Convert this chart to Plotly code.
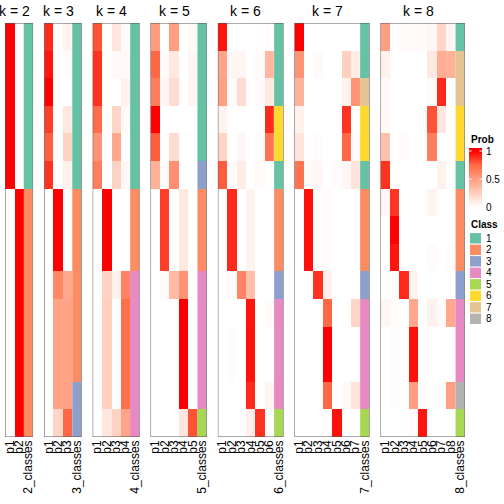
import plotly.graph_objects as go

# ---------------- data ----------------
ks = [2, 3, 4, 5, 6, 7, 8]

prob_k2 = [
    [1.00, 0.00], [1.00, 0.00], [1.00, 0.00], [1.00, 0.00], [1.00, 0.00], [1.00, 0.00],
    [0.00, 1.00], [0.00, 1.00], [0.00, 1.00], [0.00, 1.00], [0.00, 1.00], [0.00, 1.00],
    [0.00, 1.00], [0.00, 1.00], [0.00, 1.00],
]
class_k2 = [1, 1, 1, 1, 1, 1, 2, 2, 2, 2, 2, 2, 2, 2, 2]

prob_k3 = [
    [0.90, 0.00, 0.06], [0.95, 0.00, 0.02], [1.00, 0.00, 0.00], [0.85, 0.00, 0.12],
    [0.77, 0.00, 0.23], [0.88, 0.00, 0.07], [0.00, 1.00, 0.00], [0.00, 1.00, 0.00],
    [0.00, 1.00, 0.00], [0.00, 0.60, 0.45], [0.00, 0.48, 0.48], [0.00, 0.48, 0.48],
    [0.00, 0.48, 0.48], [0.00, 0.48, 0.48], [0.00, 0.22, 0.75],
]
class_k3 = [1, 1, 1, 1, 1, 1, 2, 2, 2, 2, 2, 2, 2, 3, 3]

prob_k4 = [
    [0.80, 0.00, 0.13, 0.02], [0.88, 0.00, 0.03, 0.03], [0.88, 0.00, 0.00, 0.07],
    [0.73, 0.00, 0.22, 0.03], [0.55, 0.00, 0.45, 0.00], [0.65, 0.00, 0.23, 0.04],
    [0.00, 1.00, 0.00, 0.00], [0.00, 1.00, 0.00, 0.00], [0.00, 1.00, 0.00, 0.00],
    [0.00, 0.23, 0.07, 0.63], [0.00, 0.25, 0.00, 0.72], [0.00, 0.25, 0.00, 0.72],
    [0.00, 0.25, 0.00, 0.72], [0.00, 0.25, 0.00, 0.72], [0.00, 0.13, 0.23, 0.47],
]
class_k4 = [1, 1, 1, 1, 1, 1, 2, 2, 2, 4, 4, 4, 4, 4, 4]

prob_k5 = [
    [0.50, 0.00, 0.50, 0.00, 0.03], [0.75, 0.02, 0.12, 0.00, 0.05],
    [0.65, 0.04, 0.18, 0.00, 0.05], [1.00, 0.00, 0.00, 0.00, 0.00],
    [0.78, 0.00, 0.18, 0.00, 0.00], [0.40, 0.03, 0.57, 0.00, 0.00],
    [0.00, 0.85, 0.00, 0.12, 0.00], [0.00, 0.85, 0.00, 0.12, 0.00],
    [0.00, 0.85, 0.00, 0.12, 0.00], [0.00, 0.03, 0.35, 0.55, 0.02],
    [0.00, 0.00, 0.00, 1.00, 0.00], [0.00, 0.00, 0.00, 1.00, 0.00],
    [0.00, 0.00, 0.00, 1.00, 0.00], [0.00, 0.00, 0.00, 1.00, 0.00],
    [0.00, 0.00, 0.00, 0.13, 0.80],
]
class_k5 = [1, 1, 1, 1, 1, 3, 2, 2, 2, 4, 4, 4, 4, 4, 5]

prob_k6 = [
    [0.95, 0.00, 0.00, 0.00, 0.00, 0.02], [0.47, 0.04, 0.05, 0.00, 0.03, 0.37],
    [0.50, 0.02, 0.18, 0.00, 0.02, 0.12], [0.06, 0.00, 0.00, 0.00, 0.00, 0.90],
    [0.22, 0.00, 0.04, 0.00, 0.02, 0.70], [0.78, 0.02, 0.10, 0.00, 0.03, 0.00],
    [0.00, 0.90, 0.00, 0.06, 0.00, 0.00], [0.00, 0.90, 0.00, 0.06, 0.00, 0.00],
    [0.00, 0.90, 0.00, 0.06, 0.00, 0.00], [0.00, 0.02, 0.62, 0.33, 0.00, 0.00],
    [0.00, 0.00, 0.00, 0.95, 0.00, 0.03], [0.00, 0.01, 0.00, 0.96, 0.00, 0.00],
    [0.00, 0.01, 0.00, 0.96, 0.00, 0.00], [0.00, 0.00, 0.00, 0.90, 0.00, 0.05],
    [0.00, 0.00, 0.00, 0.08, 0.88, 0.00],
]
class_k6 = [1, 1, 1, 6, 6, 1, 2, 2, 2, 3, 4, 4, 4, 4, 5]

prob_k7 = [
    [1.00, 0.00, 0.00, 0.00, 0.00, 0.00, 0.00], [0.55, 0.00, 0.03, 0.00, 0.00, 0.25, 0.10],
    [0.40, 0.00, 0.00, 0.00, 0.00, 0.07, 0.55], [0.07, 0.00, 0.00, 0.00, 0.00, 0.88, 0.00],
    [0.14, 0.00, 0.02, 0.00, 0.00, 0.75, 0.02], [0.70, 0.02, 0.04, 0.00, 0.02, 0.04, 0.14],
    [0.00, 0.96, 0.00, 0.02, 0.00, 0.00, 0.00], [0.00, 0.96, 0.00, 0.02, 0.00, 0.00, 0.00],
    [0.00, 0.96, 0.00, 0.02, 0.00, 0.00, 0.00], [0.00, 0.00, 0.88, 0.08, 0.00, 0.00, 0.00],
    [0.00, 0.00, 0.00, 0.75, 0.00, 0.00, 0.22], [0.00, 0.00, 0.00, 1.00, 0.00, 0.00, 0.00],
    [0.00, 0.00, 0.00, 1.00, 0.00, 0.00, 0.00], [0.00, 0.00, 0.00, 0.75, 0.00, 0.03, 0.14],
    [0.00, 0.00, 0.00, 0.01, 0.96, 0.00, 0.00],
]
class_k7 = [1, 1, 7, 6, 6, 1, 2, 2, 2, 3, 4, 4, 4, 4, 5]

prob_k8 = [
    [0.50, 0.00, 0.03, 0.02, 0.02, 0.04, 0.22, 0.05],
    [0.07, 0.00, 0.00, 0.00, 0.00, 0.12, 0.42, 0.40],
    [0.03, 0.00, 0.00, 0.00, 0.00, 0.02, 0.90, 0.00],
    [0.03, 0.00, 0.00, 0.00, 0.00, 0.80, 0.13, 0.00],
    [0.32, 0.00, 0.02, 0.00, 0.00, 0.65, 0.00, 0.00],
    [0.88, 0.00, 0.00, 0.00, 0.00, 0.00, 0.07, 0.00],
    [0.04, 0.87, 0.00, 0.00, 0.00, 0.06, 0.00, 0.00],
    [0.00, 1.00, 0.00, 0.00, 0.00, 0.00, 0.00, 0.00],
    [0.00, 0.95, 0.00, 0.00, 0.00, 0.02, 0.00, 0.02],
    [0.00, 0.00, 0.90, 0.06, 0.00, 0.00, 0.00, 0.00],
    [0.04, 0.02, 0.00, 0.45, 0.00, 0.07, 0.02, 0.45],
    [0.00, 0.01, 0.00, 0.96, 0.00, 0.00, 0.00, 0.00],
    [0.00, 0.01, 0.00, 0.96, 0.00, 0.00, 0.00, 0.00],
    [0.00, 0.01, 0.00, 0.50, 0.00, 0.00, 0.00, 0.50],
    [0.00, 0.00, 0.00, 0.02, 0.95, 0.00, 0.00, 0.00],
]
class_k8 = [1, 7, 7, 6, 6, 1, 2, 2, 2, 3, 4, 4, 4, 8, 5]

probs = [prob_k2, prob_k3, prob_k4, prob_k5, prob_k6, prob_k7, prob_k8]
classes = [class_k2, class_k3, class_k4, class_k5, class_k6, class_k7, class_k8]

class_labels = ["1", "2", "3", "4", "5", "6", "7", "8"]
class_colors = ["#66C2A5", "#FC8D62", "#8DA0CB", "#E78AC3",
                "#A6D854", "#FFD92F", "#E5C494", "#B3B3B3"]
prob_ticks = [0, 0.5, 1]
prob_tick_labels = ["0", "0.5", "1"]

# ---------------- layout helpers ----------------
W = H = 504
FONT = "Liberation Sans, Arial, Helvetica, sans-serif"
def px(x):
    return x / W
def py(y):
    return 1 - y / H

top_px, bot_px = 23, 437
col_w, gap, x0 = 9.38, 11.0, 5.0

prob_scale = [[0.0, "rgb(255,255,255)"], [0.25, "rgb(255,207,191)"],
              [0.5, "rgb(255,158,129)"], [0.75, "rgb(255,104,70)"],
              [1.0, "rgb(255,0,0)"]]
n = len(class_colors)
class_scale = []
for i, c in enumerate(class_colors):
    class_scale.append([i / n, c])
    class_scale.append([(i + 1) / n, c])

fig = go.Figure()
layout_axes = {}
shapes = []
annotations = []
nrows = len(class_k2)
rows = list(range(nrows))

xstart = x0
for idx, k in enumerate(ks):
    ax = "x" if idx == 0 else f"x{idx + 1}"
    axname = "xaxis" if idx == 0 else f"xaxis{idx + 1}"
    ncols = k + 1
    xend = xstart + ncols * col_w
    pm = probs[idx]
    fig.add_trace(go.Heatmap(
        z=pm, x=list(range(k)), y=rows, coloraxis="coloraxis",
        xaxis=ax, yaxis="y", hoverinfo="skip"))
    fig.add_trace(go.Heatmap(
        z=[[c] for c in classes[idx]], x=[k], y=rows,
        colorscale=class_scale, zmin=0.5, zmax=n + 0.5, showscale=False,
        xaxis=ax, yaxis="y", hoverinfo="skip"))
    layout_axes[axname] = dict(
        domain=[px(xstart), px(xend)], range=[-0.5, k + 0.5],
        tickvals=list(range(k + 1)),
        ticktext=[f"p{j + 1}" for j in range(k)] + [f"{k}_classes"],
        tickangle=-90, tickfont=dict(size=12, color="black", family=FONT),
        showgrid=False, zeroline=False, showline=False, ticks="",
        anchor="y", fixedrange=True, automargin=False)
    shapes.append(dict(type="rect", xref=ax, yref="y",
                       x0=-0.5, x1=k + 0.5, y0=-0.5, y1=nrows - 0.5,
                       line=dict(color="#555555", width=1)))
    annotations.append(dict(text=f"k = {k}", xref=ax, yref="paper",
                            x=(k - 1) / 2, y=py(10.5), showarrow=False,
                            xanchor="center", yanchor="middle",
                            font=dict(size=14, color="black", family=FONT)))
    xstart = xend + gap

# ---- Prob legend: colour ramp drawn as a heatmap on its own axes ----
# value 1 sits at y=151 px, value 0 at y=207 px; the bar runs 148..210 px
unit = 207 - 151
lo, hi = -(210 - 207) / unit, 1 + (151 - 148) / unit
ramp_y = [lo + (hi - lo) * i / 120 for i in range(121)]
ramp_z = [[min(max(v, 0.0), 1.0)] for v in ramp_y]
fig.add_trace(go.Heatmap(
    z=ramp_z, x=[0], y=ramp_y, coloraxis="coloraxis",
    xaxis="x8", yaxis="y2", hoverinfo="skip"))
layout_axes["xaxis8"] = dict(domain=[px(469), px(482)], range=[-0.5, 0.5],
                             visible=False, fixedrange=True, anchor="y2",
                             automargin=False)
layout_axes["yaxis2"] = dict(domain=[py(210), py(148)], range=[lo, hi],
                             visible=False, fixedrange=True, anchor="x8",
                             automargin=False)
for t, lab in zip(prob_ticks, prob_tick_labels):
    annotations.append(dict(text=lab, xref="paper", yref="y2", x=px(484), y=t,
                            xanchor="left", yanchor="middle", showarrow=False,
                            font=dict(size=10, color="black", family=FONT)))
    if 0 < t:
        for xa, xb in ((469, 471.5), (479.5, 482)):
            shapes.append(dict(type="line", xref="paper", yref="y2",
                               x0=px(xa), x1=px(xb), y0=t, y1=t,
                               line=dict(color="white", width=1)))

annotations.append(dict(text="<b>Prob</b>", xref="paper", yref="paper",
                        x=px(469), y=py(139), xanchor="left", yanchor="middle",
                        showarrow=False, font=dict(size=10, color="black", family=FONT)))
# ---- Class legend ----
annotations.append(dict(text="<b>Class</b>", xref="paper", yref="paper",
                        x=px(469), y=py(225), xanchor="left", yanchor="middle",
                        showarrow=False, font=dict(size=10, color="black", family=FONT)))
for i, (lab, col) in enumerate(zip(class_labels, class_colors)):
    cy = 238.3 + 11.5 * i
    shapes.append(dict(type="rect", xref="paper", yref="paper",
                       x0=px(470), x1=px(481), y0=py(cy - 5.2), y1=py(cy + 5.2),
                       fillcolor=col, line=dict(width=0)))
    annotations.append(dict(text=lab, xref="paper", yref="paper",
                            x=px(484), y=py(cy), xanchor="left", yanchor="middle",
                            showarrow=False,
                            font=dict(size=10, color="black", family=FONT)))

fig.update_layout(
    width=W, height=H, margin=dict(l=0, r=0, t=0, b=0, autoexpand=False),
    paper_bgcolor="white", plot_bgcolor="white",
    font=dict(family=FONT, color="black"),
    coloraxis=dict(colorscale=prob_scale, cmin=0, cmax=1, showscale=False),
    yaxis=dict(domain=[py(bot_px), py(top_px)], range=[nrows - 0.5, -0.5],
               visible=False, fixedrange=True, automargin=False),
    shapes=shapes, annotations=annotations,
    showlegend=False,
)
fig.update_layout(**layout_axes)
fig.write_html("out.html", config={"displayModeBar": False},
               post_script="document.body.style.margin='0';document.body.style.overflow='hidden';")
